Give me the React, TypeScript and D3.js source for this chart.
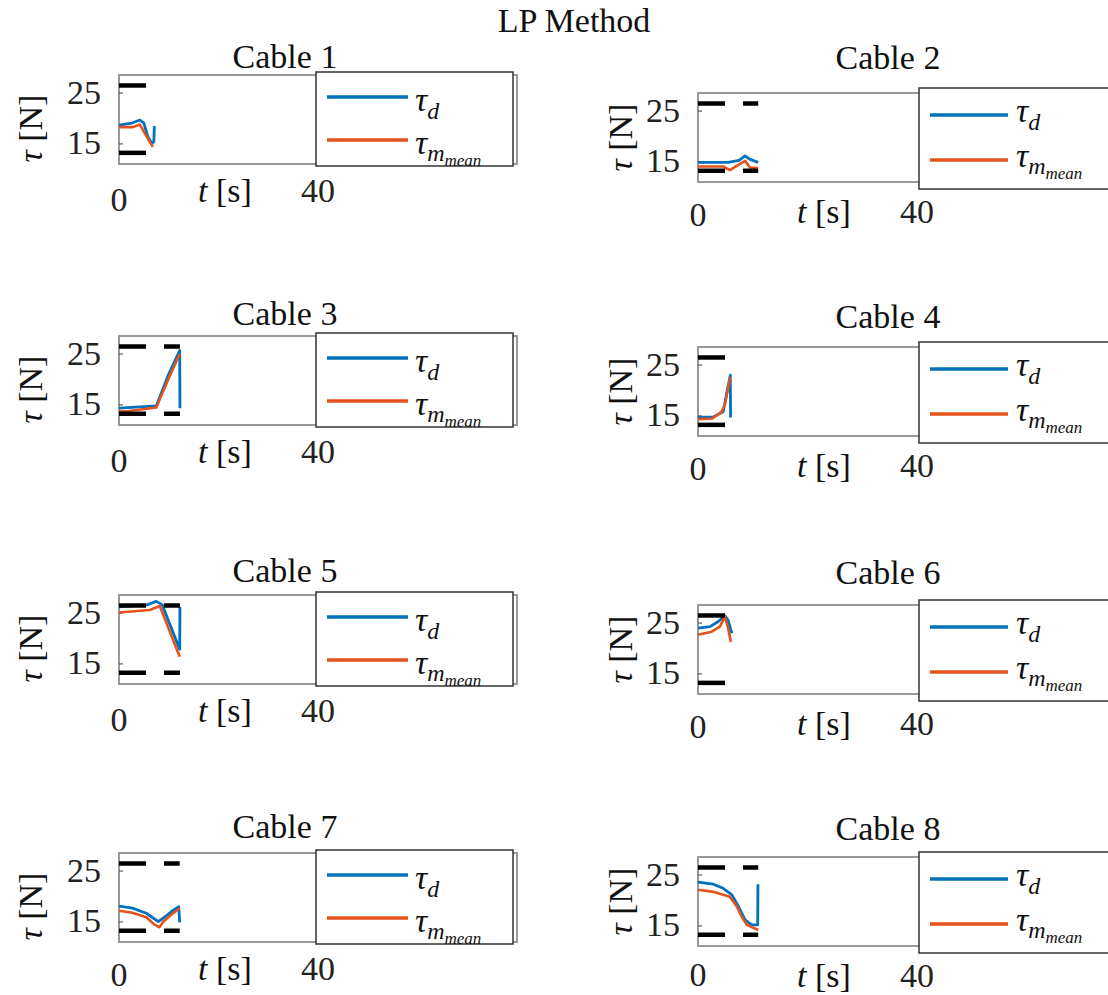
import React from "react";
import * as d3 from "d3";

// ---------- data ----------
const cableNames = ["Cable 1", "Cable 2", "Cable 3", "Cable 4", "Cable 5", "Cable 6", "Cable 7", "Cable 8"];
const yTickValues = [15, 25];
const xTickValues = [0, 40];
const tauLimits = [13.24, 26.49];
const yDomain = [11.05, 28.55];
const xDomain = [0, 80];

// desired tension tau_d (time, value) and measured mean tension (time, value)
const c1DesT = [0, 2.6, 4.2, 5.0, 5.8, 6.6, 7.0, 7.1];
const c1DesV = [18.7, 19.1, 19.7, 19.1, 16.4, 15.1, 15.4, 18.5];
const c1MeanT = [0, 2.8, 4.2, 5.6, 6.8];
const c1MeanV = [18.3, 18.3, 18.8, 16.4, 14.4];

const c2DesT = [0, 5.5, 7.5, 8.6, 9.5, 11.0];
const c2DesV = [14.9, 14.9, 15.3, 16.2, 15.5, 14.9];
const c2MeanT = [0, 4.6, 5.8, 8.6, 9.5, 11.0];
const c2MeanV = [14.1, 14.1, 13.4, 15.2, 13.9, 13.8];

const c3DesT = [0, 7.5, 9.8, 12.2, 12.25];
const c3DesV = [14.35, 14.8, 20.6, 25.7, 14.35];
const c3MeanT = [0, 2.0, 7.5, 9.8, 12.2];
const c3MeanV = [13.7, 13.8, 14.5, 19.8, 25.0];

const c4DesT = [0, 2.8, 4.6, 5.2, 5.9, 5.95];
const c4DesV = [14.7, 14.8, 15.8, 19.2, 23.0, 14.7];
const c4MeanT = [0, 2.6, 4.3, 4.9, 5.9];
const c4MeanV = [14.35, 14.5, 15.8, 17.2, 22.7];

const c5DesT = [0, 5.6, 7.5, 8.7, 12.2, 12.25];
const c5DesV = [26.2, 26.6, 27.3, 26.6, 17.9, 26.2];
const c5MeanT = [0, 6.2, 8.2, 12.2];
const c5MeanV = [25.1, 25.6, 26.4, 16.4];

const c6DesT = [0, 2.2, 3.7, 4.9, 5.5, 6.0, 6.2];
const c6DesV = [24.0, 24.3, 25.3, 26.45, 25.6, 23.6, 23.0];
const c6MeanT = [0, 2.5, 4.0, 4.9, 5.5, 6.0];
const c6MeanV = [22.7, 23.3, 24.3, 26.25, 24.0, 21.3];

const c7DesT = [0, 2.7, 5.5, 7.9, 9.5, 10.5, 12.0, 12.2];
const c7DesV = [18.1, 17.7, 16.7, 15.05, 16.2, 17.0, 18.0, 14.9];
const c7MeanT = [0, 2.7, 5.5, 7.2, 8.1, 8.9, 10.5, 12.2];
const c7MeanV = [17.2, 16.8, 15.9, 14.4, 13.95, 15.05, 16.4, 17.7];

const c8DesT = [0, 2.8, 4.6, 6.2, 7.4, 8.6, 9.8, 10.9, 10.95];
const c8DesV = [23.6, 23.2, 22.4, 21.1, 18.8, 16.2, 15.2, 15.2, 23.2];
const c8MeanT = [0, 2.8, 5.8, 7.1, 8.0, 8.9, 11.0];
const c8MeanV = [22.1, 21.7, 20.75, 18.8, 16.8, 15.2, 14.2];

const desiredTimes = [c1DesT, c2DesT, c3DesT, c4DesT, c5DesT, c6DesT, c7DesT, c8DesT];
const desiredValues = [c1DesV, c2DesV, c3DesV, c4DesV, c5DesV, c6DesV, c7DesV, c8DesV];
const meanTimes = [c1MeanT, c2MeanT, c3MeanT, c4MeanT, c5MeanT, c6MeanT, c7MeanT, c8MeanT];
const meanValues = [c1MeanV, c2MeanV, c3MeanV, c4MeanV, c5MeanV, c6MeanV, c7MeanV, c8MeanV];

// ---------- layout ----------
const W = 1108;
const H = 995;
const BOX_H = 89;
const BLUE = "#0072BD";
const ORANGE = "#E5531B";
const FONT = "'Liberation Serif', 'Times New Roman', serif";

const colSpec = [
  {
    x0: 119, x1: 517, legL: 316, legR: 513, legTop: -3, legBot: 2,
    lineX0: 327, lineX1: 408, textX: 415, line1: 25, line2: 68, textOff: 14,
    ylabelX: 42, ylabelDy: 9, xlabelX: 225, xlabelBase: 38, zeroBase: 47, fortyBase: 38, titleX: 285,
  },
  {
    x0: 698, x1: 1136, legL: 919, legR: 1134, legTop: -5, legBot: 7,
    lineX0: 930, lineX1: 1008, textX: 1016, line1: 27, line2: 72, textOff: 7,
    ylabelX: 632, ylabelDy: 0, xlabelX: 824, xlabelBase: 41, zeroBase: 44, fortyBase: 41, titleX: 888,
  },
];

const panelTops = [75, 93, 336, 347, 595, 605, 853, 857];
const titleBases = [68, 68.5, 324.5, 327.5, 581.5, 583.5, 837.5, 839.5];

function Panel({ i }: { i: number }) {
  const col = colSpec[i % 2];
  const top = panelTops[i];
  const bottom = top + BOX_H;
  const x = d3.scaleLinear().domain(xDomain).range([col.x0, col.x1]);
  const y = d3.scaleLinear().domain(yDomain).range([bottom, top]);
  const line = d3
    .line<[number, number]>()
    .x((d) => x(d[0]))
    .y((d) => y(d[1]));
  const des: [number, number][] = desiredTimes[i].map((t, k) => [t, desiredValues[i][k]]);
  const mean: [number, number][] = meanTimes[i].map((t, k) => [t, meanValues[i][k]]);
  const tEnd = Math.max(d3.max(desiredTimes[i]) as number, d3.max(meanTimes[i]) as number);
  const legTop = top + col.legTop;
  const legBot = bottom + col.legBot;
  const zeroY = Math.min(bottom + col.zeroBase, H - 9);

  return (
    <g>
      <text x={col.titleX} y={titleBases[i]} textAnchor="middle" fontSize={34} fontFamily={FONT} fill="#111">
        {cableNames[i]}
      </text>
      {/* axes box */}
      <rect x={col.x0} y={top} width={col.x1 - col.x0} height={BOX_H} fill="white" stroke="#999" strokeWidth={2} />
      {/* y ticks */}
      {yTickValues.map((v) => (
        <g key={v}>
          <line x1={col.x0} x2={col.x0 + 4} y1={y(v)} y2={y(v)} stroke="#444" strokeWidth={1} />
          <text x={col.x0 - 18} y={y(v) + 10.5} textAnchor="end" fontSize={34} fontFamily={FONT} fill="#222">
            {v}
          </text>
        </g>
      ))}
      {/* x tick labels */}
      <text x={x(xTickValues[0])} y={zeroY} textAnchor="middle" fontSize={34} fontFamily={FONT} fill="#222">
        {xTickValues[0]}
      </text>
      <text x={x(xTickValues[1])} y={bottom + col.fortyBase} textAnchor="middle" fontSize={34} fontFamily={FONT} fill="#222">
        {xTickValues[1]}
      </text>
      {/* axis labels */}
      <text x={col.xlabelX} y={bottom + col.xlabelBase} textAnchor="middle" fontSize={34} fontFamily={FONT} fill="#111">
        <tspan fontStyle="italic">t</tspan>
        <tspan> [s]</tspan>
      </text>
      <text
        transform={`translate(${col.ylabelX},${(top + bottom) / 2 + col.ylabelDy}) rotate(-90)`}
        textAnchor="middle"
        fontSize={34}
        fontFamily={FONT}
        fill="#111"
      >
        <tspan fontStyle="italic">τ</tspan>
        <tspan> [N]</tspan>
      </text>
      {/* data */}
      <path d={line(des) || ""} fill="none" stroke={BLUE} strokeWidth={2.8} strokeLinejoin="round" />
      <path d={line(mean) || ""} fill="none" stroke={ORANGE} strokeWidth={2.6} strokeLinejoin="round" />
      {/* tension limits */}
      {tauLimits.map((v) => (
        <line
          key={v}
          x1={x(0)}
          x2={x(tEnd)}
          y1={y(v)}
          y2={y(v)}
          stroke="#000"
          strokeWidth={4.5}
          strokeDasharray="27 18"
        />
      ))}
      {/* legend */}
      <rect x={col.legL} y={legTop} width={col.legR - col.legL} height={legBot - legTop} fill="white" stroke="#333" strokeWidth={1.5} />
      <line x1={col.lineX0} x2={col.lineX1} y1={legTop + col.line1} y2={legTop + col.line1} stroke={BLUE} strokeWidth={3.5} />
      <line x1={col.lineX0} x2={col.lineX1} y1={legTop + col.line2} y2={legTop + col.line2} stroke={ORANGE} strokeWidth={3.5} />
      <text x={col.textX} y={legTop + col.line1 + col.textOff} fontFamily={FONT} fill="#111">
        <tspan fontStyle="italic" fontSize={34}>τ</tspan>
        <tspan fontStyle="italic" fontSize={24} dy={8}>d</tspan>
      </text>
      <text x={col.textX} y={legTop + col.line2 + col.textOff} fontFamily={FONT} fill="#111">
        <tspan fontStyle="italic" fontSize={34}>τ</tspan>
        <tspan fontStyle="italic" fontSize={24} dy={7}>m</tspan>
        <tspan fontStyle="italic" fontSize={17} dy={5}>mean</tspan>
      </text>
    </g>
  );
}

export default function App() {
  return (
    <svg
      width={W}
      height={H}
      viewBox={`0 0 ${W} ${H}`}
      style={{ position: "absolute", left: 0, top: 0, background: "white" }}
    >
      <rect x={0} y={0} width={W} height={H} fill="white" />
      <text x={574} y={32} textAnchor="middle" fontSize={34} fontFamily={FONT} fill="#111">
        LP Method
      </text>
      {cableNames.map((_, i) => (
        <Panel key={i} i={i} />
      ))}
    </svg>
  );
}
